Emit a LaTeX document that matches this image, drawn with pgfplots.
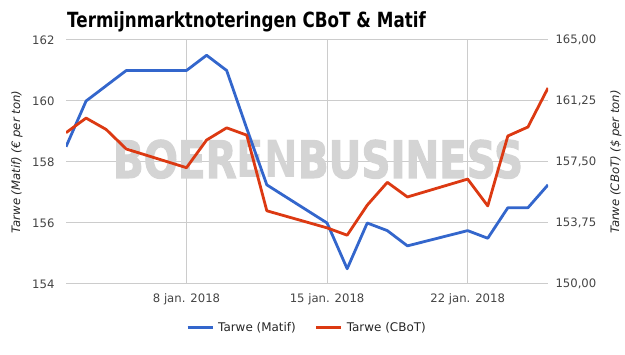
\documentclass[border=0pt]{standalone}
\usepackage{pgfplots}
\pgfplotsset{compat=1.18}
\usepackage{fontspec}
\setmainfont{DejaVu Sans}
\newfontfamily\titlefont{DejaVu Sans}[FakeStretch=0.80]
\newfontfamily\wmfont{DejaVu Sans}[BoldFeatures={FakeBold=2.5}]
\newfontfamily\wmfontB{DejaVu Sans}
\definecolor{cblue}{HTML}{3366CC}
\definecolor{cred}{HTML}{DC3912}
\definecolor{gridc}{HTML}{CCCCCC}
\definecolor{tickc}{HTML}{444444}
\definecolor{wmark}{HTML}{D4D4D4}
\begin{document}
\begin{tikzpicture}
\useasboundingbox (0,0) rectangle (625bp,355bp);
\node[anchor=base west, inner sep=0pt, font=\titlefont\bfseries\fontsize{21}{24}\selectfont] at (67bp,327bp) {Termijnmarktnoteringen CBoT \& Matif};
\begin{axis}[
  at={(66bp,71bp)}, anchor=south west,
  scale only axis, width=482bp, height=244bp,
  xmin=2, xmax=26, ymin=154, ymax=162,
  xtick={8,15,22}, xticklabels={8 jan. 2018,15 jan. 2018,22 jan. 2018},
  ytick={154,156,158,160,162},
  xmajorgrids, ymajorgrids,
  grid style={gridc, line width=1bp},
  axis line style={draw=none},
  major tick length=0pt,
  tick label style={font=\fontsize{11.7}{14}\selectfont, text=tickc},
  /pgf/number format/assume math mode=true,
  yticklabel style={xshift=-8bp},
  xticklabel style={yshift=-6bp},
  ylabel={Tarwe (Matif) (€ per ton)},
  ylabel style={at={(axis description cs:-0.1017,0.5)}, anchor=center, font=\itshape\fontsize{11.7}{14}\selectfont, text=black!85},
]
\node[anchor=base, inner sep=0pt, text=wmark] at (axis cs:14.55,157.48) {\resizebox{410bp}{38bp}{\wmfont\bfseries BOER{\wmfontB\bfseries EN}BUSINESS}};
\addplot[cblue, line width=2.8bp, line join=round] coordinates {
(2,158.5) (3,160) (4,160.5) (5,161) (8,161) (9,161.5) (10,161) (11,159.1) (12,157.25)
(15,156) (16,154.5) (17,156) (18,155.75) (19,155.25) (22,155.75) (23,155.5) (24,156.5) (25,156.5) (26,157.25)
};
\end{axis}
\begin{axis}[
  at={(66bp,71bp)}, anchor=south west,
  scale only axis, width=482bp, height=244bp,
  xmin=2, xmax=26, ymin=150, ymax=165,
  axis y line*=right, axis x line=none,
  ytick={150,153.75,157.5,161.25,165},
  axis line style={draw=none},
  major tick length=0pt,
  tick label style={font=\fontsize{11.7}{14}\selectfont, text=tickc},
  /pgf/number format/.cd, fixed, fixed zerofill, precision=2, use comma, assume math mode=true, /pgfplots/.cd,
  yticklabel style={xshift=4bp},
  ylabel={Tarwe (CBoT) (\$ per ton)},
  ylabel style={at={(axis description cs:1.141,0.5)}, anchor=center, rotate=0, font=\itshape\fontsize{11.7}{14}\selectfont, text=black!85},
  legend style={at={(axis description cs:0.5,-0.18)}, anchor=center, draw=none, fill=none, font=\fontsize{12}{14}\selectfont, text=black!85, /tikz/every even column/.append style={column sep=17bp}, /tikz/every odd column/.append style={column sep=2bp}},
  legend columns=2,
  legend image code/.code={\draw[#1, line width=3bp] (0bp,0bp) -- (25bp,0bp);},
]
\addlegendimage{cblue}
\addlegendentry{Tarwe (Matif)}
\addplot[cred, line width=2.8bp, line join=round] coordinates {
(2,159.3) (3,160.2) (4,159.5) (5,158.3) (8,157.15) (9,158.85) (10,159.6) (11,159.15) (12,154.5)
(15,153.45) (16,153.0) (17,154.85) (18,156.25) (19,155.35) (22,156.45) (23,154.8) (24,159.1) (25,159.65) (26,162.05)
};
\addlegendentry{Tarwe (CBoT)}
\end{axis}
\end{tikzpicture}
\end{document}
